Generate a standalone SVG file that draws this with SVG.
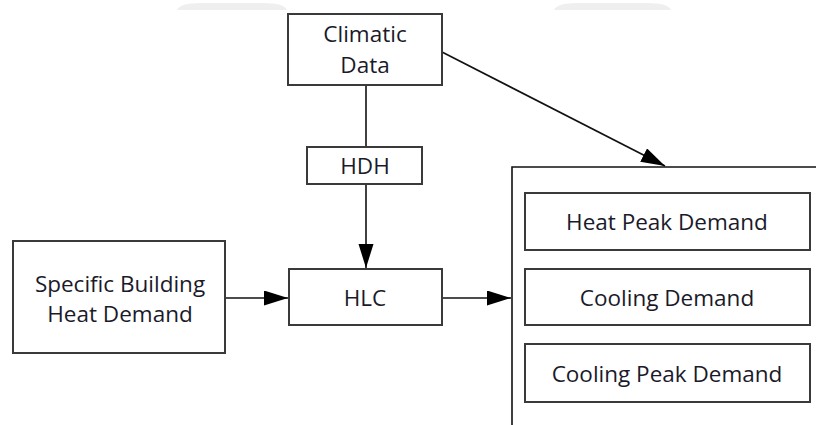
<svg xmlns="http://www.w3.org/2000/svg" width="816" height="425" viewBox="0 0 816 425">
<style>
.box{fill:#ffffff;stroke:#3a3a3a;stroke-width:2}
.ln{fill:none;stroke:#111111;stroke-width:1.6}
.t{font-family:"Open Sans","Liberation Sans",sans-serif;font-size:22.5px;fill:#1a1a2a;text-anchor:middle}
.ghost{fill:#efefef}
</style>
<defs>
<marker id="ah" markerUnits="userSpaceOnUse" markerWidth="26" markerHeight="16" refX="24" refY="7.5" orient="auto">
<path d="M0,0 L24,7.5 L0,15 z" fill="#000000"/>
</marker>
</defs>
<rect width="816" height="425" fill="#ffffff"/>
<g id="background-marks">
<path class="ghost" d="M177,10 Q180,3 200,3 H264 Q284,3 287,10 Z"/>
<path class="ghost" d="M554,10 Q557,3 577,3 H648 Q668,3 671,10 Z"/>
</g>
<g id="connectors">
<line class="ln" x1="366" y1="85" x2="366" y2="147"/>
<line class="ln" x1="366" y1="184" x2="366" y2="268" marker-end="url(#ah)"/>
<line class="ln" x1="225" y1="298" x2="288" y2="298" marker-end="url(#ah)"/>
<line class="ln" x1="442" y1="298" x2="511" y2="298" marker-end="url(#ah)"/>
<line class="ln" x1="442" y1="52" x2="665" y2="166" marker-end="url(#ah)"/>
</g>
<g id="climatic-data">
<rect class="box" x="288" y="14" width="154" height="71"/>
<text class="t" x="365" y="42">Climatic</text>
<text class="t" x="365" y="73">Data</text>
</g>
<g id="hdh">
<rect class="box" x="307" y="147" width="115" height="37"/>
<text class="t" x="365" y="174">HDH</text>
</g>
<g id="hlc">
<rect class="box" x="289" y="269" width="153" height="56"/>
<text class="t" x="365" y="306">HLC</text>
</g>
<g id="specific-building-heat-demand">
<rect class="box" x="13" y="241" width="212" height="112"/>
<text class="t" x="120" y="292">Specific Building</text>
<text class="t" x="120" y="322">Heat Demand</text>
</g>
<g id="outputs">
<path class="ln" d="M512,425 V167 H820"/>
</g>
<g id="heat-peak-demand">
<rect class="box" x="525" y="193" width="285" height="57"/>
<text class="t" x="667" y="230">Heat Peak Demand</text>
</g>
<g id="cooling-demand">
<rect class="box" x="525" y="269" width="285" height="56"/>
<text class="t" x="667" y="306">Cooling Demand</text>
</g>
<g id="cooling-peak-demand">
<rect class="box" x="525" y="344" width="285" height="58"/>
<text class="t" x="667" y="382">Cooling Peak Demand</text>
</g>
</svg>
